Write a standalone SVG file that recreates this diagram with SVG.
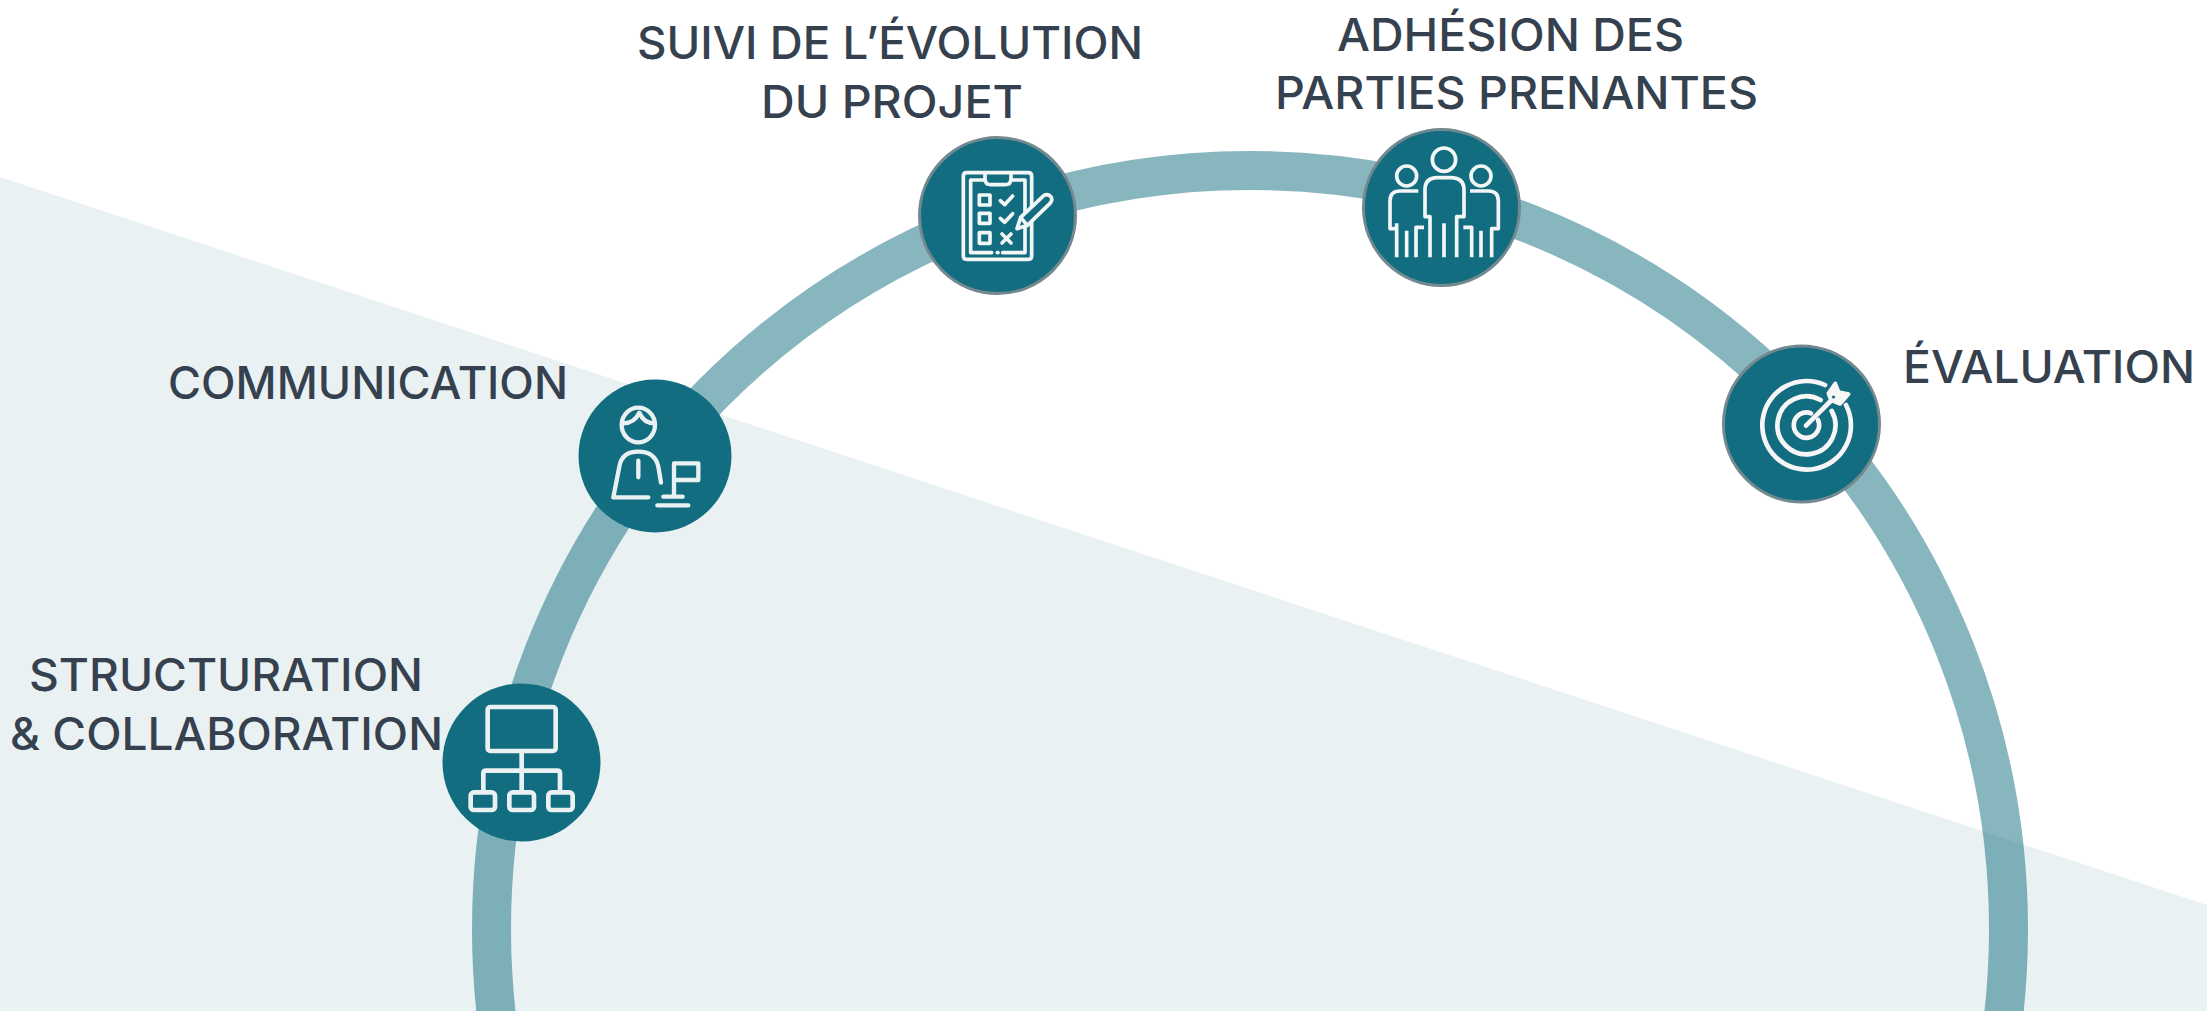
<svg xmlns="http://www.w3.org/2000/svg" width="2207" height="1011" viewBox="0 0 2207 1011">
<style>
.lbl{font-family:"Inter","Liberation Sans",sans-serif;font-size:45px;fill:#35414e;font-weight:500}
.disc{fill:#126d80}
.rim{stroke:#72898f;stroke-width:3}
.ico{fill:none;stroke-linecap:round;stroke-linejoin:round}
.up{stroke:#f3f6f7}
.low{stroke:#e9f1f3}
</style>
<rect width="2207" height="1011" fill="#ffffff"/>
<polygon id="band" points="0,177 2207,905 2207,1011 0,1011" fill="#e9f1f3"/>
<g id="connectors">
<circle cx="1250" cy="929" r="758.5" fill="none" stroke="#126d80" stroke-opacity="0.5" stroke-width="39"/>
</g>
<g id="node-structuration">
<circle class="disc" cx="521.5" cy="762.5" r="79"/>
<g class="ico low" stroke-width="14" transform="translate(430,670) scale(.33333)">
<rect x="173" y="111" width="204" height="132" rx="8"/>
<path d="M275 243V362M160 362V310q0-8 8-8H382q8 0 8 8V362"/>
<rect x="122" y="367" width="73" height="53" rx="10"/>
<rect x="238" y="367" width="74" height="53" rx="10"/>
<rect x="355" y="367" width="73" height="53" rx="10"/>
</g>
<text class="lbl" x="29" y="691" textLength="394" lengthAdjust="spacingAndGlyphs">STRUCTURATION</text>
<text class="lbl" x="10" y="750" textLength="433" lengthAdjust="spacingAndGlyphs">&amp; COLLABORATION</text>
</g>
<g id="node-communication">
<circle class="disc" cx="655" cy="456" r="76.5"/>
<g class="ico low" stroke-width="13" transform="translate(560,370) scale(.33333)">
<ellipse cx="235" cy="165" rx="50" ry="52"/>
<path d="M190 160C215 160 230 145 238 128C245 145 260 160 284 160"/>
<path d="M303 338L295 290Q285 245 235 245Q185 245 178 290L160 382H265"/>
<path d="M235 272V322M342 280H415V330H342ZM342 280V380M310 380H368M292 406H385"/>
</g>
<text class="lbl" x="168" y="399" textLength="400" lengthAdjust="spacingAndGlyphs">COMMUNICATION</text>
</g>
<g id="node-suivi">
<circle class="disc rim" cx="997.5" cy="215.5" r="78"/>
<g class="ico up" stroke-width="11" transform="translate(880,120) scale(.33333)">
<path d="M260 158H445Q455 158 455 168V408Q455 418 445 418H260Q250 418 250 408V168Q250 158 260 158Z"/>
<path d="M315 158V176Q315 194 333 194H375Q393 194 393 176V158"/>
<path d="M315 180H272V398H335M352 398H354M368 398H435V180H393"/>
<rect x="298" y="225" width="32" height="30"/>
<rect x="298" y="280" width="32" height="30"/>
<rect x="298" y="338" width="32" height="32"/>
<path d="M361 242L374 254L398 228M361 295L374 307L398 281M366 342L393 369M393 342L366 369"/>
<path fill="#126d80" d="M411 326L422 292L492 226Q505 220 514 232Q518 242 510 250L442 316Z"/>
<path d="M422 292L442 316"/>
</g>
<text class="lbl" x="637" y="59" textLength="506" lengthAdjust="spacingAndGlyphs">SUIVI DE L’ÉVOLUTION</text>
<text class="lbl" x="761" y="118" textLength="262" lengthAdjust="spacingAndGlyphs">DU PROJET</text>
</g>
<g id="node-adhesion">
<circle class="disc rim" cx="1441.5" cy="207.5" r="78"/>
<g class="ico up" stroke-width="11" transform="translate(1350,110) scale(.33333)">
<circle cx="282" cy="149" r="35"/>
<circle cx="170" cy="198" r="30"/>
<circle cx="393" cy="198" r="30"/>
<path stroke-linecap="butt" d="M240 442V320H225V240Q225 203 262 203H302Q342 203 342 240V320H320V442M282 340V442"/>
<path stroke-linecap="butt" d="M205 243H150Q120 243 120 273V356H140V442M140 340V356M170 362V442M198 442V352H222"/>
<path stroke-linecap="butt" d="M360 243H415Q445 243 445 273V356H425V442M393 362V442M365 442V352H340"/>
</g>
<text class="lbl" x="1337" y="51" textLength="347" lengthAdjust="spacingAndGlyphs">ADHÉSION DES</text>
<text class="lbl" x="1275" y="109" textLength="483" lengthAdjust="spacingAndGlyphs">PARTIES PRENANTES</text>
</g>
<g id="node-evaluation">
<circle class="disc rim" cx="1801.5" cy="424" r="78"/>
<g class="ico" stroke="#f7f5f5" stroke-width="14" transform="translate(1710,330) scale(.33333)">
<path d="M345 165A133 133 0 1 0 408 225"/>
<path d="M332 210A87 87 0 1 0 365 243"/>
<path d="M303 250A38 38 0 1 0 324 270"/>
<path d="M288 287L365 210"/>
<path stroke-width="11" fill="#f7f5f5" d="M355 190L376 160L386 186L416 192L390 222L362 210Z"/>
</g>
<circle cx="1833.5" cy="397" r="1.6" fill="#126d80"/>
<text class="lbl" x="1903" y="383" textLength="292" lengthAdjust="spacingAndGlyphs">ÉVALUATION</text>
</g>
</svg>
